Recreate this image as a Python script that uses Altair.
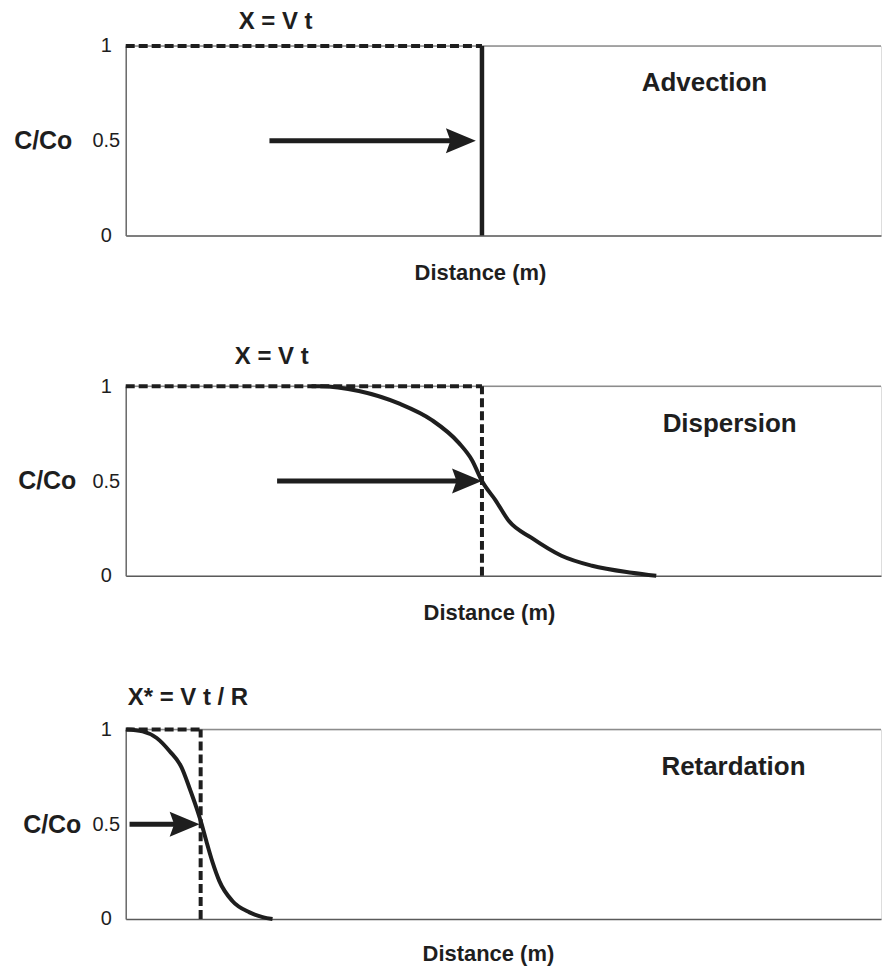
import altair as alt
import pandas as pd

FONT = "Liberation Sans"
INK = "#1e1e1e"

# ---------------- data ----------------
panel_names = ["Advection", "Dispersion", "Retardation"]
front_labels = ["X = V t", "X = V t", "X* = V t / R"]
front_x = [46.6, 46.6, 9.8]          # position of the front (m)
arrow_start_x = [18.8, 19.8, 0.5]
arrow_tip_x = [45.8, 46.6, 9.66]
arrow_c = 0.5

# dispersion profile (C/Co vs distance)
disp_x = [24.3, 25.3, 30.5, 35.8, 40.1, 43.6, 45.3, 46.6, 48.4, 50.1, 53.1, 57.0, 61.0, 66.2, 69.4]
disp_c = [1.0, 1.0, 0.975, 0.908, 0.82, 0.70, 0.61, 0.50, 0.397, 0.29, 0.20, 0.106, 0.053, 0.016, 0.0]

# retardation profile
ret_x = [0.1, 2.2, 4.05, 5.75, 7.3, 8.35, 9.27, 9.9, 10.55, 11.35, 12.25, 13.95, 16.2, 17.9, 19.2]
ret_c = [1.0, 0.99, 0.955, 0.885, 0.80, 0.69, 0.585, 0.505, 0.41, 0.30, 0.20, 0.095, 0.035, 0.01, 0.0]

y_ticks = [0, 0.5, 1]
label_x = [75.7, 79.0, 79.5]
label_c = [0.805, 0.80, 0.80]
title_x = [19.6, 19.1, 0.26]
title_align = ["center", "center", "left"]
title_dy = [-24, -29, -32]

# layout (pixels)
plot_w = 757
plot_h = 190
cco_titlex = [-54, -50, -45]
label_pad = 20
xtitle_x = [355, 364, 363]
xtitle_y = [37, 37, 35]

X_MAX = 98.8
ARROW = "M0,0 L-2,-0.83 L-1.7,0 L-2,0.83 Z"


def make_panel(i, curve_x=None, curve_c=None):
    xs = alt.Scale(domain=[0, X_MAX], nice=False, zero=False)
    ys = alt.Scale(domain=[0, 1], nice=False)
    xaxis = alt.Axis(
        title="Distance (m)", labels=False, ticks=False, grid=False,
        domainColor="#5a5a5a", domainWidth=1.5,
        titleFont=FONT, titleFontSize=22, titleFontWeight="bold", titleColor=INK,
        titleX=xtitle_x[i], titleY=xtitle_y[i], titleAlign="center", titleBaseline="middle",
    )
    yaxis = alt.Axis(
        title="C/Co", values=y_ticks, format="~g", ticks=False, grid=False,
        domainColor="#6a6a6a", domainWidth=1.5,
        labelFont=FONT, labelFontSize=20, labelColor=INK, labelPadding=label_pad,
        labelAlign="center", labelFlush=False, labelOverlap=False,
        titleFont=FONT, titleFontSize=25, titleFontWeight="bold", titleColor=INK,
        titleAngle=0, titleAlign="right", titleBaseline="middle",
        titleX=cco_titlex[i], titleY=plot_h / 2,
    )

    border = alt.Chart(pd.DataFrame({"x": [0], "x2": [X_MAX], "y": [1.0]})).mark_rule(
        color="#8c8c8c", strokeWidth=1.5
    ).encode(
        x=alt.X("x:Q", scale=xs, axis=xaxis),
        x2="x2:Q",
        y=alt.Y("y:Q", scale=ys, axis=yaxis),
    )

    layers = [border]

    # dashed top line up to the front
    top_dash = alt.Chart(pd.DataFrame({"x": [0], "x2": [front_x[i]], "y": [1.0]})).mark_rule(
        color=INK, strokeWidth=4, strokeDash=[9, 4]
    ).encode(x="x:Q", x2="x2:Q", y="y:Q")
    layers.append(top_dash)

    # vertical front line
    if i == 0:
        vline = alt.Chart(pd.DataFrame({"x": [front_x[i]], "y": [0.0], "y2": [1.0]})).mark_rule(
            color=INK, strokeWidth=4.5
        ).encode(x="x:Q", y="y:Q", y2="y2:Q")
    else:
        vline = alt.Chart(pd.DataFrame({"x": [front_x[i]], "y": [0.0], "y2": [1.0]})).mark_rule(
            color=INK, strokeWidth=4, strokeDash=[9, 4]
        ).encode(x="x:Q", y="y:Q", y2="y2:Q")
    layers.append(vline)

    if curve_x is not None:
        curve = alt.Chart(pd.DataFrame({"x": curve_x, "y": curve_c})).mark_line(
            color=INK, strokeWidth=4, interpolate="monotone"
        ).encode(x="x:Q", y="y:Q")
        layers.append(curve)

    shaft = alt.Chart(pd.DataFrame({"x": [arrow_start_x[i]], "x2": [arrow_tip_x[i]], "y": [arrow_c]})).mark_rule(
        color=INK, strokeWidth=5, x2Offset=-14
    ).encode(x="x:Q", x2="x2:Q", y="y:Q")
    head = alt.Chart(pd.DataFrame({"x": [arrow_tip_x[i]], "y": [arrow_c]})).mark_point(
        shape=ARROW, filled=True, size=900, color=INK, opacity=1, strokeWidth=0
    ).encode(x="x:Q", y="y:Q")
    layers += [shaft, head]

    label = alt.Chart(pd.DataFrame({"x": [label_x[i]], "y": [label_c[i]], "t": [panel_names[i]]})).mark_text(
        font=FONT, fontSize=26, fontWeight="bold", color=INK, align="center", baseline="middle"
    ).encode(x="x:Q", y="y:Q", text="t:N")
    title = alt.Chart(pd.DataFrame({"x": [title_x[i]], "y": [1.0], "t": [front_labels[i]]})).mark_text(
        font=FONT, fontSize=24, fontWeight="bold", color=INK, align=title_align[i],
        baseline="middle", dy=title_dy[i]
    ).encode(x="x:Q", y="y:Q", text="t:N")
    layers += [label, title]

    return alt.layer(*layers).properties(width=plot_w, height=plot_h)


p1 = make_panel(0)
p2 = make_panel(1, disp_x, disp_c)
p3 = make_panel(2, ret_x, ret_c)

chart = alt.vconcat(p1, p2, p3, spacing=60).properties(
    padding={"left": 5, "top": 0, "right": 0, "bottom": 0}
).configure_view(stroke=None).configure(font=FONT)

chart.save("out.html", embed_options={"renderer": "svg", "actions": False})
